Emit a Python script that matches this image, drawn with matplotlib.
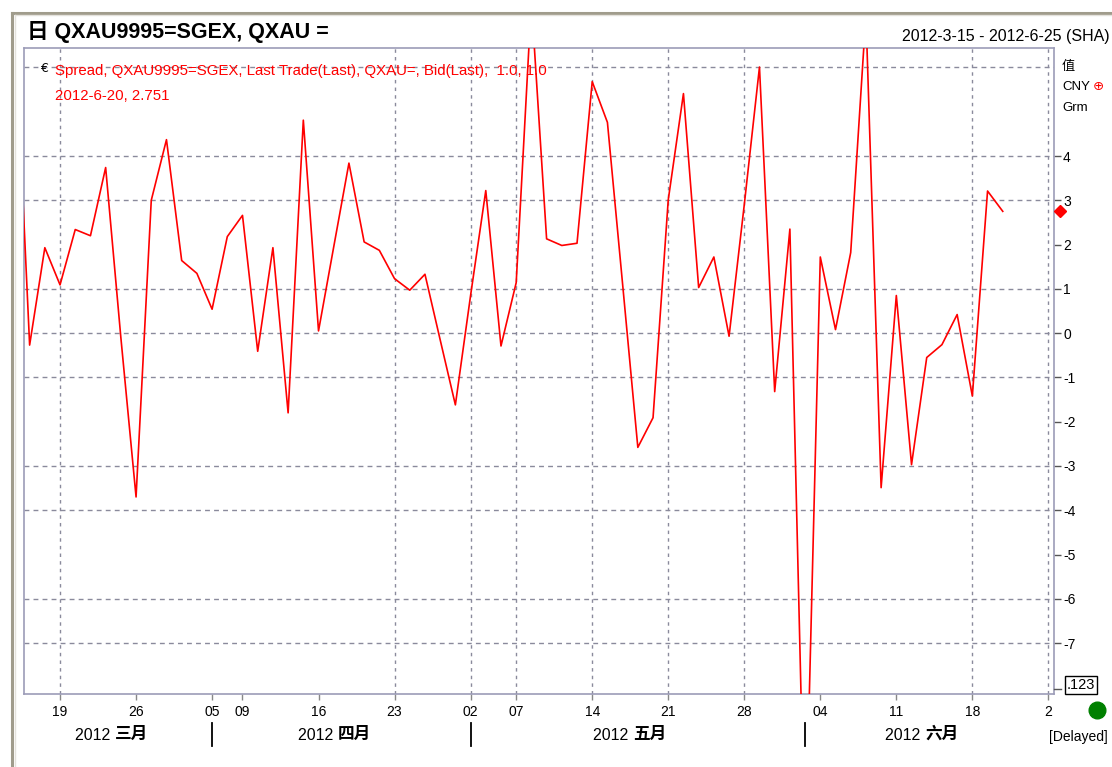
import matplotlib
matplotlib.use("Agg")
import matplotlib.pyplot as plt
from matplotlib.lines import Line2D
import pandas as pd

plt.rcParams['font.family'] = ['Liberation Sans', 'Noto Sans CJK SC', 'DejaVu Sans']
plt.rcParams['axes.unicode_minus'] = False

# ---------------- data ----------------
holidays = ['2012-04-02', '2012-04-03', '2012-04-04', '2012-04-30', '2012-05-01']
spread_values = [7.2, -0.27, 1.93, 1.09, 2.34, 2.20, 3.74, -0.10, -3.70, 3.00,
                 4.37, 1.64, 1.35, 0.54, 2.18, 2.66, -0.41, 1.93, -1.80, 4.81,
                 0.05, 1.95, 3.84, 2.06, 1.87, 1.23, 0.97, 1.33, -0.15, -1.62,
                 0.85, 3.22, -0.29, 1.14, 7.50, 2.13, 1.98, 2.03, 5.68, 4.76,
                 1.10, -2.58, -1.91, 3.01, 5.41, 1.03, 1.72, -0.07, 2.90, 6.01,
                 -1.32, 2.35, -12.0, 1.72, 0.08, 1.82, 7.20, -3.49, 0.85, -2.97,
                 -0.55, -0.26, 0.42, -1.42, 3.21, 2.751]
tick_dates = ['2012-03-19', '2012-03-26', '2012-04-05', '2012-04-09', '2012-04-16',
              '2012-04-23', '2012-05-02', '2012-05-07', '2012-05-14', '2012-05-21',
              '2012-05-28', '2012-06-04', '2012-06-11', '2012-06-18', '2012-06-25']
tick_labels = ['19', '26', '05', '09', '16', '23', '02', '07', '14', '21', '28',
               '04', '11', '18', '2']
vgrid_dates = ['2012-03-19', '2012-04-23', '2012-05-02', '2012-05-07', '2012-05-14',
               '2012-05-21', '2012-05-28', '2012-06-18', '2012-06-25']
month_first_days = ['2012-04-05', '2012-05-02', '2012-06-01']
month_labels = [('2012 ', '三月'), ('2012 ', '四月'), ('2012 ', '五月'), ('2012 ', '六月')]
month_label_px = [115, 338, 633, 925]
hgrid_values = [6, 4, 3, 1, 0, -1, -3, -4, -6, -7]
ytick_values = [4, 3, 2, 1, 0, -1, -2, -3, -4, -5, -6, -7]
last_value = 2.751

# trading-day index
all_days = pd.bdate_range('2012-03-14', '2012-06-29')
all_days = all_days[~all_days.isin(pd.to_datetime(holidays))]
origin = list(all_days).index(pd.Timestamp('2012-03-19'))
pos = {d.strftime('%Y-%m-%d'): i - origin for i, d in enumerate(all_days)}
days_str = [d.strftime('%Y-%m-%d') for d in all_days]
xs = [pos[d] for d in days_str[:len(spread_values)]]

W, H = 1112, 767
fig = plt.figure(figsize=(W / 100, H / 100), dpi=100)
fig.patch.set_facecolor('white')

def fx(px):
    return px / W

def fy(py):
    return 1 - py / H

L, R, T, B = 24, 1054, 48, 694
ax = fig.add_axes([fx(L), fy(B), fx(R) - fx(L), fy(T) - fy(B)])
ax.set_facecolor('white')

frame_col = '#9c9cb8'
grid_col = '#8a8a9c'
for sp in ax.spines.values():
    sp.set_color(frame_col)
    sp.set_linewidth(1.2)

for v in hgrid_values:
    ax.axhline(v, color=grid_col, lw=1.0, ls=(0, (3.5, 3.0)), zorder=1)
for d in vgrid_dates:
    ax.axvline(pos[d], color=grid_col, lw=1.0, ls=(0, (2.5, 3.0)), zorder=1)

ax.plot(xs, spread_values, color='#ff0000', lw=1.2, zorder=3)

ax.set_xlim(-2.37, 65.37)
ax.set_ylim(-8.15, 6.44)

ax.yaxis.tick_right()
ax.set_yticks(ytick_values)
ax.set_yticklabels([str(v) for v in ytick_values])
ax.tick_params(axis='y', direction='out', length=5, width=1, color='#555555',
               pad=1.5, labelsize=10, labelcolor='black')

ax.set_xticks([pos[d] for d in tick_dates])
ax.set_xticklabels(tick_labels)
ax.tick_params(axis='x', direction='out', length=4, width=1, color='#888888',
               pad=4, labelsize=10, labelcolor='black')

# red marker of last value on right axis
ax.plot([1.006], [last_value], marker='D', color='red', ms=6, clip_on=False,
        transform=ax.get_yaxis_transform(), zorder=5)

# title & header
fig.text(fx(27), fy(32), '日 QXAU9995=SGEX, QXAU =', fontsize=15.5, fontweight='bold',
         ha='left', va='center', color='black')
fig.text(fx(1110), fy(37), '2012-3-15 - 2012-6-25 (SHA)', fontsize=11.5,
         ha='right', va='center', color='black')

# legend text
fig.text(fx(40), fy(69), '€', fontsize=9, ha='left', va='center', color='black',
         family=['DejaVu Sans'])
fig.text(fx(55), fy(71), 'Spread, QXAU9995=SGEX, Last Trade(Last), QXAU=, Bid(Last),  1.0, 1.0',
         fontsize=10.8, ha='left', va='center', color='red')
fig.text(fx(55), fy(96), '2012-6-20, 2.751', fontsize=10.8, ha='left', va='center', color='red')

# right-side unit labels
fig.text(fx(1062), fy(67), '值', fontsize=9.5, ha='left', va='center', color='black')
fig.text(fx(1062), fy(87), 'CNY', fontsize=9.5, ha='left', va='center', color='black')
fig.text(fx(1093), fy(87), '⊕', fontsize=9.5, ha='left', va='center', color='red',
         family=['DejaVu Sans'])
fig.text(fx(1062), fy(108), 'Grm', fontsize=9.5, ha='left', va='center', color='black')

# bottom value box
fig.add_artist(Line2D([fx(1054), fx(1061)], [fy(689), fy(689)], color='#555555', lw=1))
fig.text(fx(1081), fy(685), '.123', fontsize=10.5, ha='center', va='center', color='black',
         bbox=dict(boxstyle='square,pad=0.12', fc='white', ec='black', lw=1))

# green status dot & delayed label
fig.add_artist(Line2D([fx(1097)], [fy(710)], marker='o', ms=12, color='#008000',
                      markeredgecolor='#008000', linestyle='none'))
fig.text(fx(1078), fy(737), '[Delayed]', fontsize=10, ha='center', va='center', color='black')

# month labels and separators
for (yr, mo), px in zip(month_labels, month_label_px):
    fig.text(fx(px), fy(735), yr, fontsize=11.5, ha='right', va='center', color='black')
    fig.text(fx(px), fy(734), mo, fontsize=12, fontweight='bold', ha='left',
             va='center', color='black', family=['Noto Sans CJK SC'])
for d in month_first_days:
    xd = ax.transData.transform((pos[d], 0))[0] / fig.dpi / fig.get_figwidth()
    fig.add_artist(Line2D([xd, xd], [fy(723), fy(746)], color='black', lw=1.3))

# outer window frame
fig.add_artist(Line2D([fx(12), fx(1112)], [fy(12.5), fy(12.5)], color='#a09c8c', lw=2.2))
fig.add_artist(Line2D([fx(12), fx(12)], [fy(12.5), fy(767)], color='#a09c8c', lw=2.2))
fig.add_artist(Line2D([fx(14.5), fx(1112)], [fy(15), fy(15)], color='#e4e2dc', lw=1))
fig.add_artist(Line2D([fx(14.5), fx(14.5)], [fy(15), fy(767)], color='#e4e2dc', lw=1))

fig.savefig('out.png', dpi=100, facecolor='white')
